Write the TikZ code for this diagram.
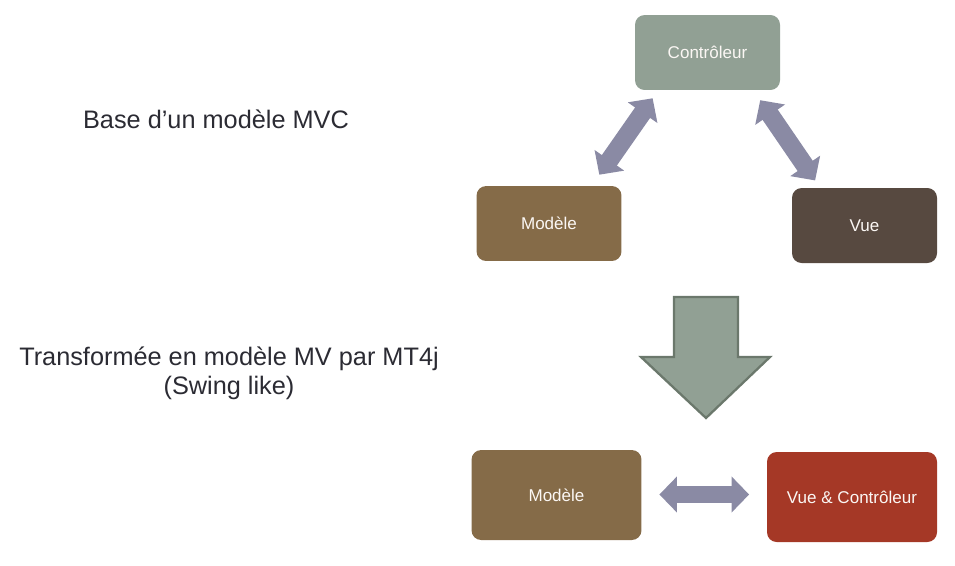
\documentclass[tikz,border=0pt]{standalone}
\usepackage{fontspec}
\setmainfont{Liberation Sans}
\usepackage{tikz}
\usetikzlibrary{arrows.meta,calc}
\usepackage{xcolor}

\definecolor{ctrlgreen}{HTML}{91A094}
\definecolor{modbrown}{HTML}{856B48}
\definecolor{vuebrown}{HTML}{574940}
\definecolor{vcred}{HTML}{A53826}
\definecolor{linkblue}{HTML}{8A8AA4}
\definecolor{edgegreen}{HTML}{6B786C}
\definecolor{titlegray}{HTML}{2B2B33}

\begin{document}
\begin{tikzpicture}[x=0.02cm, y=-0.02cm,
    box/.style={rectangle, rounded corners=5.5pt, minimum width=2.9cm, minimum height=1.5cm,
      text=white!94!brown, font=\fontsize{9.7}{11.6}\selectfont, inner sep=0pt},
    bigbox/.style={box, minimum width=3.4cm, minimum height=1.8cm},
    link/.style={draw=linkblue, line width=9.6pt,
      {Triangle[length=10pt, width=20pt]}-{Triangle[length=10pt, width=20pt]}},
    slant/.style={link, line width=10.4pt},
    title/.style={text=titlegray, font=\fontsize{14.4}{17}\selectfont, align=center}]

\useasboundingbox (0,0) rectangle (955,565);

% MVC
\node[box, fill=ctrlgreen] (ctrl) at (707.5,52.5) {\raisebox{-1.3pt}{Contrôleur}};
\node[box, fill=modbrown] (mod) at (549,223.5) {\raisebox{-1.3pt}{Modèle}};
\node[box, fill=vuebrown] (vue) at (864.5,225.5) {\raisebox{-1.3pt}{Vue}};

\draw[slant, shorten <=7.6pt, shorten >=5.5pt] ($(mod.north west)+(115.5,0)$) -- ($(ctrl.south west)+(23.5,0)$);
\draw[slant, shorten <=6.8pt, shorten >=5pt] ($(ctrl.south west)+(118.8,0)$) -- ($(vue.north west)+(28.4,0)$);

\node[title] (base) at (216,119) {Base d’un modèle MVC};

% transformation
\draw[fill=ctrlgreen, draw=edgegreen, line width=1.3pt, line join=miter]
  (674,297) -- (738,297) -- (738,357) -- (770,357) -- (706,418)
  -- (641,357) -- (674,357) -- cycle;

\node[title] (trans) at (229,373) {Transformée en modèle MV par MT4j\\[-0.5pt](Swing like)};

% MV
\node[bigbox, fill=modbrown] (mod2) at (556.5,495) {\raisebox{-1pt}{Modèle}};
\node[bigbox, fill=vcred] (vc) at (852,497) {\raisebox{-1pt}{Vue \& Contrôleur}};

\draw[link, shorten <=10pt, shorten >=10pt] (mod2.east |- 0,494.5) -- (vc.west |- 0,494.5);

\end{tikzpicture}
\end{document}
